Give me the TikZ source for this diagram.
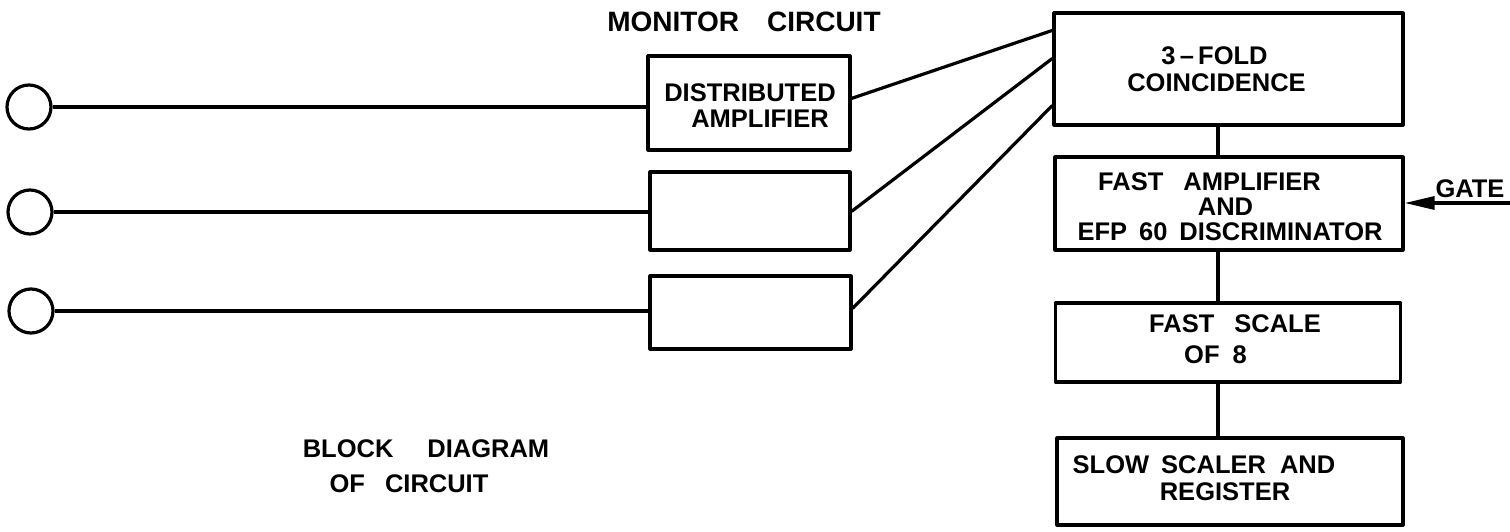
\documentclass[tikz,border=0pt]{standalone}
\usepackage{fontspec}
\setmainfont{Liberation Sans}
\usetikzlibrary{arrows.meta,calc}
\begin{document}
\begin{tikzpicture}[x=1pt,y=-1pt,
  line width=3.2pt,
  blk/.style={draw,rectangle,inner sep=0pt,line join=round},
  port/.style={draw,circle,inner sep=0pt,minimum size=44pt},
  lbl/.style={inner sep=0pt,anchor=base,font=\fontsize{25.5}{30}\selectfont\bfseries},
  ttl/.style={lbl,font=\fontsize{28}{32}\selectfont\bfseries}]
\useasboundingbox (0,0) rectangle (1510,532);
% input terminals
\node[port] (c1) at (29,107) {};
\node[port] (c2) at (30,212) {};
\node[port] (c3) at (31,311) {};
% distributed amplifiers
\node[blk,minimum width=202pt,minimum height=94pt] (a1) at (749,103) {};
\node[blk,minimum width=200pt,minimum height=78pt] (a2) at (750,211) {};
\node[blk,minimum width=201pt,minimum height=73pt] (a3) at (750.5,312.5) {};
% right column
\node[blk,minimum width=349pt,minimum height=112pt] (co) at (1228.5,69) {};
\node[blk,minimum width=348pt,minimum height=93pt] (fa) at (1229,203.5) {};
\node[blk,minimum width=345pt,minimum height=79pt] (fs) at (1228,342.5) {};
\node[blk,minimum width=346pt,minimum height=87pt] (ss) at (1230,481.5) {};
\coordinate (vx) at (1218,0);
\coordinate (g) at (1512,203);
% labels
\node[ttl] (tmon) at (744,32) {MONITOR\hspace{28pt}CIRCUIT};
\node[lbl] (td1) at (750,102) {DISTRIBUTED};
\node[lbl] (td2) at (760,128) {AMPLIFIER};
\node[lbl] (tc1) at (1214.5,65) {3\,–\,FOLD};
\node[lbl] (tc2) at (1216.5,92) {COINCIDENCE};
\node[lbl] (tf1) at (1209.5,190) {FAST\hspace{20pt}AMPLIFIER};
\node[lbl] (tf2) at (1225.5,215) {AND};
\node[lbl] (tf3) at (1230,240) {EFP\hspace{12pt}60\hspace{12pt}DISCRIMINATOR};
\node[lbl] (ts1) at (1235,332) {FAST\hspace{20pt}SCALE};
\node[lbl] (ts2) at (1215.5,363) {OF\hspace{13pt}8};
\node[lbl] (tr1) at (1204,473) {SLOW\hspace{12pt}SCALER\hspace{14pt}AND};
\node[lbl] (tr2) at (1225,500) {REGISTER};
\node[lbl] (tb1) at (426,457) {BLOCK\hspace{34pt}DIAGRAM};
\node[lbl] (tb2) at (409,492) {OF\hspace{20pt}CIRCUIT};
\node[lbl] (tg) at (1470,197) {GATE};
% connectors
\draw (c1.east) -- (c1.east -| a1.west);
\draw (c2.east) -- (c2.east -| a2.west);
\draw (c3.east) -- (c3.east -| a3.west);
\draw ($(a1.north east)+(0,44)$) -- ($(co.north west)+(0,19)$);
\draw ($(a2.north east)+(0,41)$) -- ($(co.north west)+(0,47)$);
\draw ($(a3.north east)+(0,34)$) -- ($(co.north west)+(0,94)$);
\draw (co.south -| vx) -- (fa.north -| vx);
\draw (fa.south -| vx) -- (fs.north -| vx);
\draw (fs.south -| vx) -- (ss.north -| vx);
\draw[-{Triangle[length=30pt,width=13pt]}] (g) -- (g -| fa.east);
\end{tikzpicture}
\end{document}
